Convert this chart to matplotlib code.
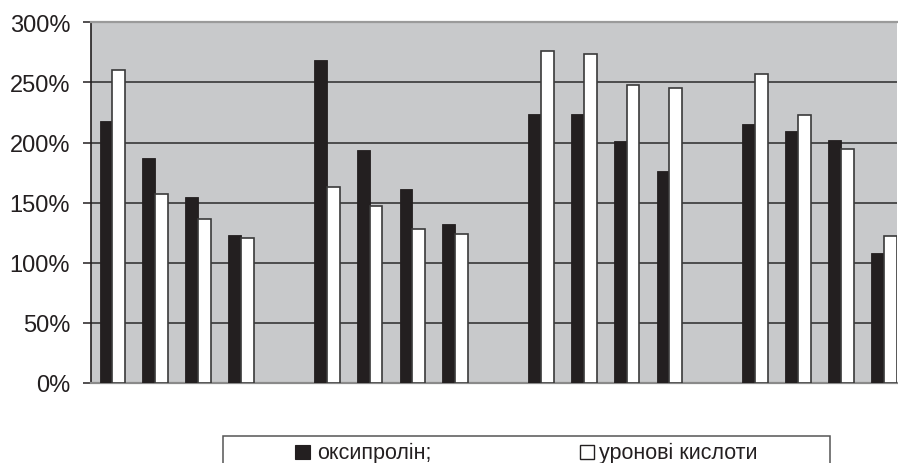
import matplotlib
matplotlib.use("Agg")
import matplotlib.pyplot as plt
from matplotlib.patches import Rectangle
from matplotlib.ticker import FuncFormatter

# Values in percent, four groups of four paired measurements
oxyproline = [218, 187, 155, 123,
              269, 194, 161, 132,
              224, 224, 201, 176,
              215, 210, 202, 108]
uronic_acids = [260, 157, 136, 121,
                163, 147, 128, 124,
                276, 274, 248, 245,
                257, 223, 195, 122]
series_labels = ["оксипролін;", "уронові кислоти"]
yticks = [0, 50, 100, 150, 200, 250, 300]

n_groups = 4
per_group = 4

W, H = 898, 464
fig = plt.figure(figsize=(W / 100, H / 100), dpi=100)
plt.rcParams["font.family"] = ["Liberation Sans", "DejaVu Sans"]

INK = "#231f20"
ax = fig.add_axes([91 / W, 80 / H, (897 - 91) / W, (384 - 23.3) / H])
ax.set_facecolor("#c8c9cb")

# category slots with an empty slot between groups
positions = [g * (per_group + 1) + i for g in range(n_groups) for i in range(per_group)]
bw = 0.3
ax.bar([p - bw / 2 for p in positions], oxyproline, width=bw,
       color=INK, edgecolor=INK, linewidth=0.6, zorder=3)
ax.bar([p + bw / 2 for p in positions], uronic_acids, width=bw,
       color="white", edgecolor="#3a3a3a", linewidth=1.2, zorder=3)

ax.set_xlim(-0.5, 18.31)
ax.set_ylim(0, 300)
ax.set_yticks(yticks)
ax.yaxis.set_major_formatter(FuncFormatter(lambda v, _: f"{v:.0f}%"))
ax.set_xticks([])
for y in yticks[1:-1]:
    ax.axhline(y, color="#2b2b2b", linewidth=1.1, zorder=1)

ax.tick_params(axis="y", direction="out", length=6, width=1.1, color=INK,
               labelsize=17, labelcolor=INK, pad=9)
ax.spines["left"].set_color(INK)
ax.spines["left"].set_linewidth(1.2)
ax.spines["top"].set_color("#9a9a9a")
ax.spines["top"].set_linewidth(1.6)
ax.spines["bottom"].set_color("#8a8a8a")
ax.spines["bottom"].set_linewidth(1.6)
ax.spines["right"].set_visible(False)

# legend box along the bottom edge
def fx(px):
    return px / W

def fy(py):
    return (H - py) / H

fig.patches.append(Rectangle((fx(223), fy(472)), fx(830) - fx(223), fy(436.7) - fy(472),
                             transform=fig.transFigure, facecolor="white",
                             edgecolor="#555555", linewidth=1.1, zorder=1))
fig.patches.append(Rectangle((fx(295), fy(460)), fx(310) - fx(295), fy(446) - fy(460),
                             transform=fig.transFigure, facecolor=INK,
                             edgecolor=INK, linewidth=0.8, zorder=2))
fig.patches.append(Rectangle((fx(580), fy(460)), fx(594) - fx(580), fy(446) - fy(460),
                             transform=fig.transFigure, facecolor="white",
                             edgecolor=INK, linewidth=1.0, zorder=2))
fig.text(fx(317), fy(459), series_labels[0], fontsize=15.5, color=INK,
         ha="left", va="baseline")
fig.text(fx(599), fy(459), series_labels[1], fontsize=15.5, color=INK,
         ha="left", va="baseline")

fig.savefig("out.png", dpi=100)
